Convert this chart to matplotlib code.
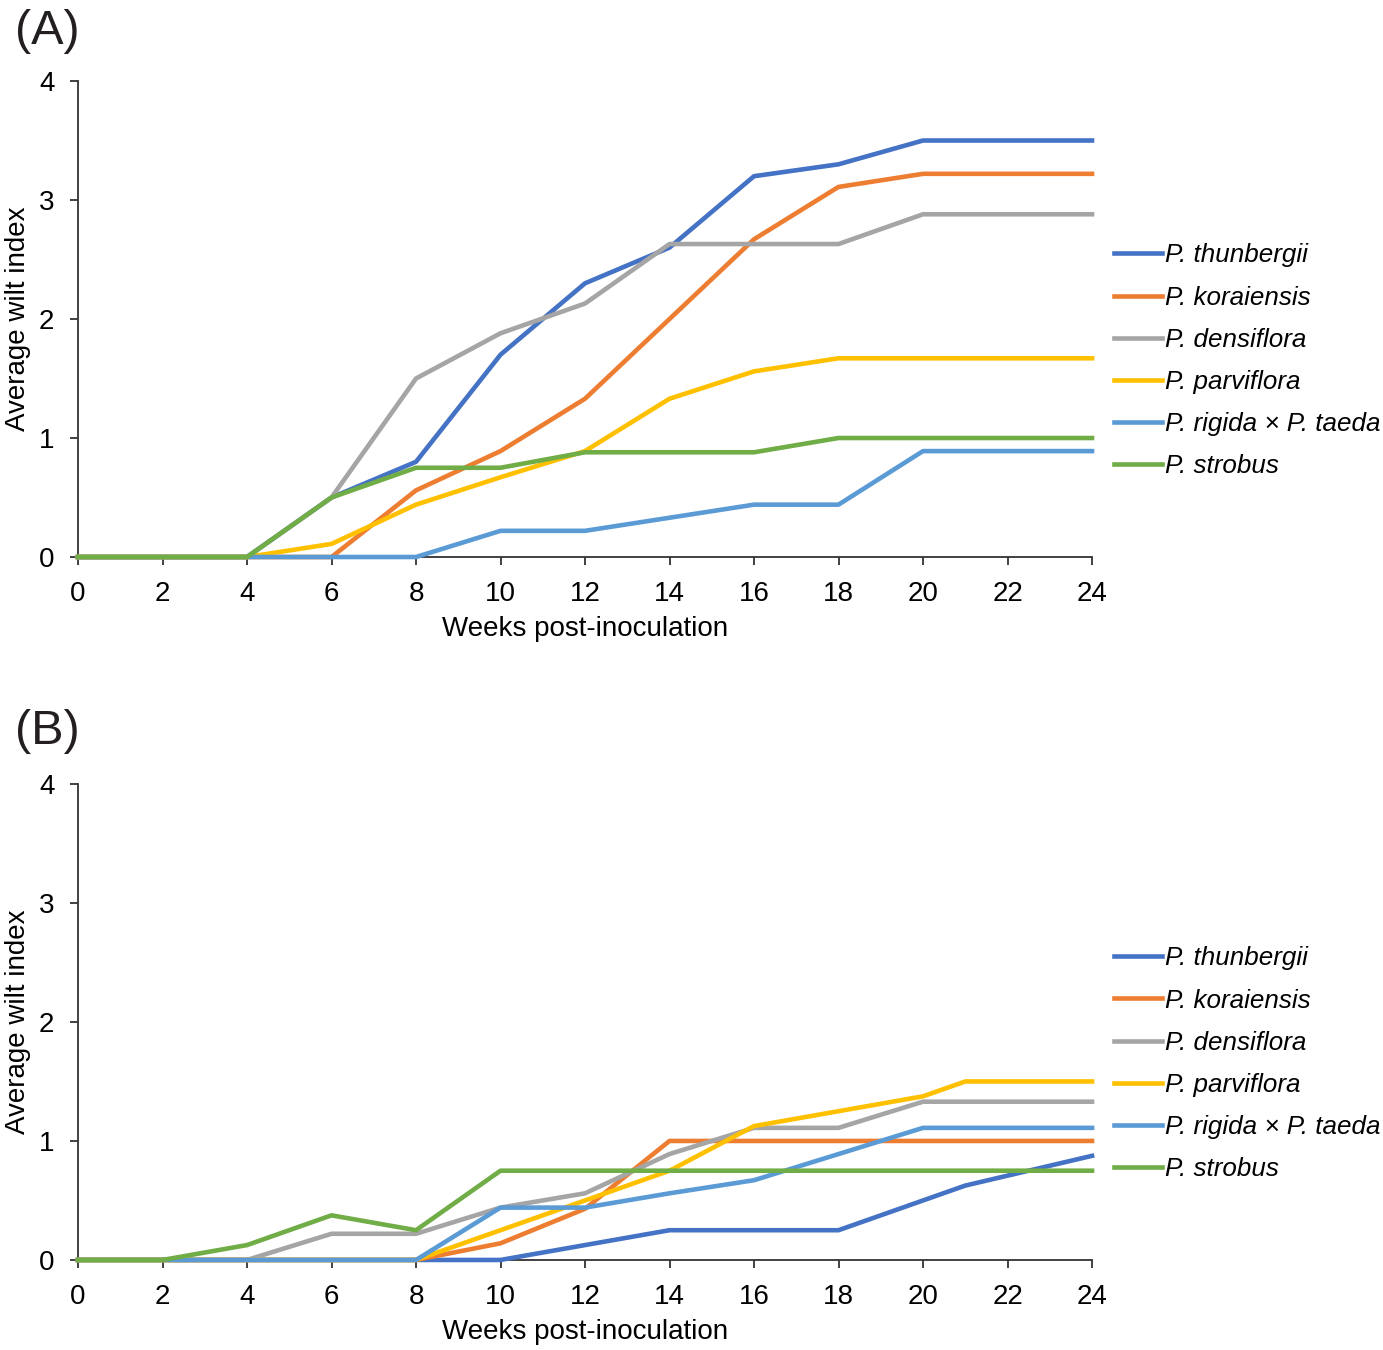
import matplotlib
matplotlib.use("Agg")
import matplotlib.pyplot as plt

plt.rcParams['font.family'] = ['Liberation Sans', 'DejaVu Sans']

weeks = [0, 2, 4, 6, 8, 10, 12, 14, 16, 18, 20, 21, 24]
species = ["P. thunbergii", "P. koraiensis", "P. densiflora",
           "P. parviflora", "P. rigida × P. taeda", "P. strobus"]
colors = ["#4472C4", "#ED7D31", "#A5A5A5", "#FFC000", "#5B9BD5", "#70AD47"]

# panel A
thunbergii_a = [0, 0, 0, 0.5, 0.8, 1.7, 2.3, 2.6, 3.2, 3.3, 3.5, 3.5, 3.5]
koraiensis_a = [0, 0, 0, 0, 0.56, 0.89, 1.33, 2.0, 2.67, 3.11, 3.22, 3.22, 3.22]
densiflora_a = [0, 0, 0, 0.5, 1.5, 1.88, 2.13, 2.63, 2.63, 2.63, 2.88, 2.88, 2.88]
parviflora_a = [0, 0, 0, 0.11, 0.44, 0.67, 0.89, 1.33, 1.56, 1.67, 1.67, 1.67, 1.67]
rigida_a = [0, 0, 0, 0, 0, 0.22, 0.22, 0.33, 0.44, 0.44, 0.89, 0.89, 0.89]
strobus_a = [0, 0, 0, 0.5, 0.75, 0.75, 0.88, 0.88, 0.88, 1.0, 1.0, 1.0, 1.0]

# panel B
thunbergii_b = [0, 0, 0, 0, 0, 0, 0.125, 0.25, 0.25, 0.25, 0.5, 0.625, 0.875]
koraiensis_b = [0, 0, 0, 0, 0, 0.14, 0.43, 1, 1, 1, 1, 1, 1]
densiflora_b = [0, 0, 0, 0.22, 0.22, 0.44, 0.56, 0.89, 1.11, 1.11, 1.33, 1.33, 1.33]
parviflora_b = [0, 0, 0, 0, 0, 0.25, 0.5, 0.75, 1.125, 1.25, 1.375, 1.5, 1.5]
rigida_b = [0, 0, 0, 0, 0, 0.44, 0.44, 0.56, 0.67, 0.89, 1.11, 1.11, 1.11]
strobus_b = [0, 0, 0.125, 0.375, 0.25, 0.75, 0.75, 0.75, 0.75, 0.75, 0.75, 0.75, 0.75]

panels = [
    ("(A)", [thunbergii_a, koraiensis_a, densiflora_a, parviflora_a, rigida_a, strobus_a]),
    ("(B)", [thunbergii_b, koraiensis_b, densiflora_b, parviflora_b, rigida_b, strobus_b]),
]

fig = plt.figure(figsize=(13.83, 13.5), dpi=100)
boxes = [[0.0564, 0.5874, 0.7332, 0.3526], [0.0564, 0.0667, 0.7332, 0.3526]]
label_y = [0.977, 0.4585]

for (title, series), box, ly in zip(panels, boxes, label_y):
    ax = fig.add_axes(box)
    for vals, name, c in zip(series, species, colors):
        ax.plot(weeks, vals, color=c, lw=3.3, label=name, clip_on=False, zorder=3)
    ax.set_xlim(0, 24)
    ax.set_ylim(0, 4)
    ax.set_xticks(range(0, 25, 2))
    ax.set_yticks(range(0, 5))
    for s in ["top", "right"]:
        ax.spines[s].set_visible(False)
    for s in ["left", "bottom"]:
        ax.spines[s].set_color("#333333")
        ax.spines[s].set_linewidth(1.3)
    ax.tick_params(direction="out", length=6, width=1.3, color="#333333",
                   labelsize=20, pad=11)
    ax.set_xlabel("Weeks post-inoculation", fontsize=20, labelpad=7)
    ax.set_ylabel("Average wilt index", fontsize=20, labelpad=6)
    ax.legend(loc="center left", bbox_to_anchor=(1.022, 0.412), frameon=False,
              prop={"size": 18.7, "style": "italic"}, handlelength=1.85,
              handletextpad=0.12, labelspacing=0.70, borderpad=0, borderaxespad=0)
    fig.text(0.011, ly, title, fontsize=35, va="center", ha="left", color="#231f20")

fig.savefig("out.png", dpi=100)
